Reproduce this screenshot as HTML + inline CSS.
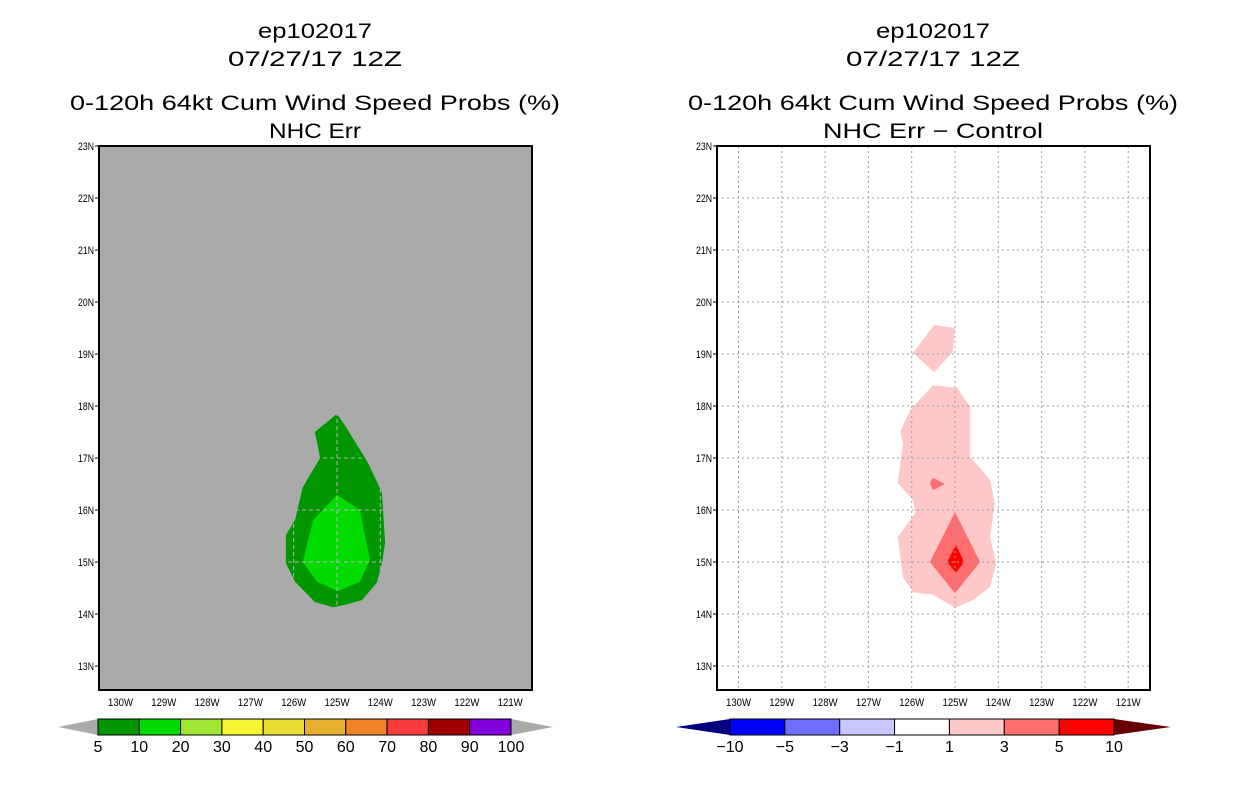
<!DOCTYPE html>
<html><head><meta charset="utf-8"><style>
html,body{margin:0;padding:0;background:#fff;width:1236px;height:800px;overflow:hidden}
svg text{font-family:"Liberation Sans",sans-serif}
</style></head><body>
<svg id="c" width="1236" height="800" xmlns="http://www.w3.org/2000/svg"></svg>
<script>
const latTicks=[13,14,15,16,17,18,19,20,21,22,23];
const lonTicks=[130,129,128,127,126,125,124,123,122,121];
const leftOuterLon=[-125,-125.51,-125.39,-125.79,-125.97,-126.18,-126.18,-125.97,-125.51,-125.09,-124.75,-124.42,-124.08,-123.96,-123.89,-123.96,-124.28,-124.75];
const leftOuterLat=[17.85,17.5,17.0,16.44,15.81,15.52,14.98,14.62,14.23,14.13,14.19,14.27,14.6,14.98,15.37,16.33,16.9,17.54];
const leftInnerLon=[-125,-124.47,-124.24,-124.47,-124.98,-125.46,-125.79,-125.55,-125.28];
const leftInnerLat=[16.29,16,15.04,14.62,14.44,14.62,15,15.81,16.04];
const rTopLon=[-125.48,-125,-125.05,-125.48,-125.97];
const rTopLat=[19.56,19.5,19.04,18.65,19.02];
const rMainLon=[-125.51,-124.95,-124.65,-124.65,-124.19,-124.08,-124.19,-124.05,-124.19,-124.58,-125,-125.51,-125.97,-126.2,-126.32,-125.92,-125.97,-126.32,-126.2,-126.27,-126.04];
const rMainLat=[18.40,18.35,17.98,17.02,16.58,16.13,15.48,14.98,14.52,14.27,14.12,14.37,14.42,14.71,15.48,15.94,16.19,16.52,17.29,17.5,17.92];
const rMidLon=[-125,-124.42,-125,-125.58];
const rMidLat=[15.96,15,14.4,15];
const rSmallLon=[-125.51,-125.23,-125.51,-125.58];
const rSmallLat=[16.62,16.5,16.38,16.52];
const rRedLon=[-124.98,-124.79,-124.98,-125.18];
const rRedLat=[15.33,15,14.79,15];
const cbLeftLabels=["5","10","20","30","40","50","60","70","80","90","100"];
const cbLeftColors=["#009600","#00dc00","#a0e632","#f5f532","#e6dc32","#e6af2d","#f08228","#fa3c3c","#a00000","#8200dc"];
const cbRightLabels=["-10","-5","-3","-1","1","3","5","10"];
const cbRightColors=["#0000ff","#6e6eff","#c8c8ff","#ffffff","#ffc8c8","#ff6e6e","#ff0000"];

const S=document.getElementById('c');const NS='http://www.w3.org/2000/svg';
function mk(t,a,p){const e=document.createElementNS(NS,t);for(const k in a)e.setAttribute(k,a[k]);(p||S).appendChild(e);return e;}
const Y0=146,Y1=690;
function yS(lat){return 562-(lat-15)*52;}
function panel(off,bg,title2,len2,name){
  const xS=lon=>337+off+(lon+125)*43.3;
  const g=mk('g',{});
  
  
  const cx=315+off;
  const t=[["ep102017",38,114],["07/27/17 12Z",66,174],["0-120h 64kt Cum Wind Speed Probs (%)",110,490],[title2,138,len2]];
  t.forEach((d,i)=>{const e=mk('text',{x:cx,y:d[1],'text-anchor':'middle','font-size':21,fill:'#000',textLength:d[2],lengthAdjust:'spacingAndGlyphs'},g);
    
    e.textContent=d[0];});
  const fr=mk('rect',{x:99+off,y:Y0,width:433,height:Y1-Y0,fill:bg},g);
  
  return {g,xS};
}
function pts(lons,lats,xS){return lons.map((l,i)=>xS(l).toFixed(1)+','+yS(lats[i]).toFixed(1)).join(' ');}
function poly(p,lons,lats,fill,xS,name){
  const e=mk('polygon',{points:pts(lons,lats,xS),fill:fill},p);
  
}
function axes(p,off,xS,gridCol,dash,clip){
  const gg=mk('g',clip?{'clip-path':'url(#'+clip+')'}:{},p);
  latTicks.forEach(l=>{const y=yS(l);
    if(l<23){const gl=mk('line',{x1:99+off,x2:532+off,y1:y,y2:y,stroke:gridCol,'stroke-dasharray':dash,'stroke-width':1},gg);
      }
    mk('line',{x1:95+off,x2:99+off,y1:y,y2:y,stroke:'#000'},p);
    const t=mk('text',{x:94+off,y:y+4,'text-anchor':'end','font-size':11,fill:'#000',textLength:16,lengthAdjust:'spacingAndGlyphs'},p);
    t.textContent=l+'N';});
  lonTicks.forEach(l=>{const x=xS(-l);
    const gl=mk('line',{x1:x,x2:x,y1:Y0,y2:Y1,stroke:gridCol,'stroke-dasharray':dash,'stroke-width':1},gg);
    
    const t=mk('text',{x:x,y:706,'text-anchor':'middle','font-size':11,fill:'#000',textLength:25,lengthAdjust:'spacingAndGlyphs'},p);
    t.textContent=l+'W';});
  const b=mk('rect',{x:99+off,y:Y0,width:433,height:Y1-Y0,fill:'none',stroke:'#000','stroke-width':2},p);
  
}
function colorbar(x0,x1,tl,tr,cols,labels,lc,rc,name){
  const g=mk('g',{});
  const w=(x1-x0)/cols.length;
  const a=mk('polygon',{points:`${tl},727 ${x0},719 ${x0},735`,fill:lc},g);
  
  const b=mk('polygon',{points:`${tr},727 ${x1},719 ${x1},735`,fill:rc},g);
  
  cols.forEach((c,i)=>{const r=mk('rect',{x:x0+i*w,y:719,width:w,height:16,fill:c,stroke:'#000','stroke-width':1},g);
    });
  labels.forEach((l,i)=>{const t=mk('text',{x:x0+i*w,y:752,'text-anchor':'middle','font-size':16,fill:'#000'},g);
    t.textContent=l.replace('-','\u2212');});
}
// left
const L=panel(0,'#aaaaaa','NHC Err',92,'left-panel');
const defs=mk('defs',{});
const cp=mk('clipPath',{id:'leftclip'},defs);
mk('polygon',{points:pts(leftOuterLon,leftOuterLat,L.xS)},cp);
poly(L.g,leftOuterLon,leftOuterLat,'#009600',L.xS,'prob-5-10-region');
poly(L.g,leftInnerLon,leftInnerLat,'#00dc00',L.xS,'prob-10-20-region');
axes(L.g,0,L.xS,'#b4b4b4','4,3','leftclip');
// right
const R=panel(618,'#ffffff','NHC Err \u2212 Control',220,'right-panel');
poly(R.g,rTopLon,rTopLat,'#ffc8c8',R.xS,'diff-1-3-north-region');
poly(R.g,rMainLon,rMainLat,'#ffc8c8',R.xS,'diff-1-3-region');
poly(R.g,rSmallLon,rSmallLat,'#ff6e6e',R.xS,'diff-3-5-small-region');
poly(R.g,rMidLon,rMidLat,'#ff6e6e',R.xS,'diff-3-5-region');
poly(R.g,rRedLon,rRedLat,'#ff0000',R.xS,'diff-5-10-region');
axes(R.g,618,R.xS,'#a0a0a0','2,3',null);
colorbar(98,511,58,553,cbLeftColors,cbLeftLabels,'#aaaaaa','#aaaaaa','left-colorbar');
colorbar(730,1114,676,1171,cbRightColors,cbRightLabels,'#000080','#640000','right-colorbar');
</script>
</body></html>
